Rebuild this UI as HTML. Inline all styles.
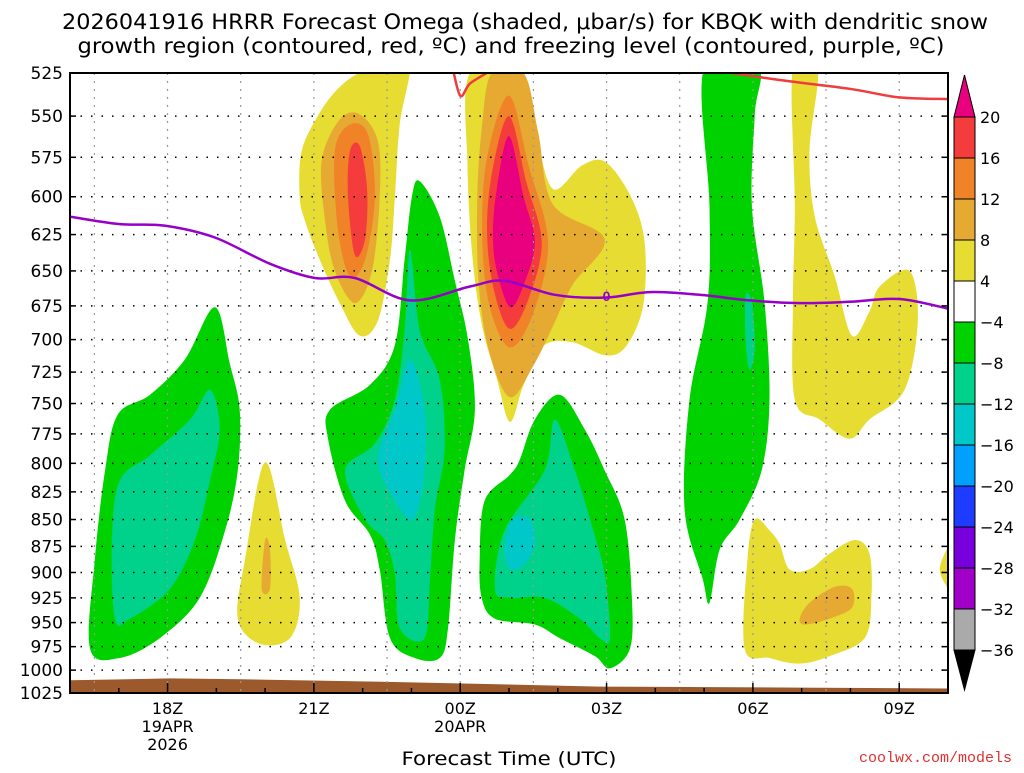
<!DOCTYPE html>
<html><head><meta charset="utf-8"><style>
body{margin:0;background:#fff;width:1024px;height:768px;overflow:hidden;font-family:"Liberation Sans",sans-serif}
</style></head><body>
<svg id="chart" width="1024" height="768" xmlns="http://www.w3.org/2000/svg" font-family="Liberation Sans, sans-serif">
<text x="525" y="29" text-anchor="middle" font-size="21" font-family="DejaVu Sans, sans-serif" textLength="926" lengthAdjust="spacingAndGlyphs">2026041916 HRRR Forecast Omega (shaded, μbar/s) for KBQK with dendritic snow</text>
<text x="511" y="53" text-anchor="middle" font-size="21" font-family="DejaVu Sans, sans-serif" textLength="867" lengthAdjust="spacingAndGlyphs">growth region (contoured, red, ºC) and freezing level (contoured, purple, ºC)</text>
<defs><clipPath id="pc"><rect x="70" y="73" width="878" height="620"/></clipPath></defs>
<g id="shade" clip-path="url(#pc)"></g>
<g id="grid"></g>
<g id="lines" clip-path="url(#pc)"></g>
<rect x="70" y="73" width="878" height="620" fill="none" stroke="#000" stroke-width="2"/>
<g id="axes"></g>
<g id="cbar"></g>
<text x="509" y="765" text-anchor="middle" font-size="19" font-family="DejaVu Sans, sans-serif" textLength="215" lengthAdjust="spacingAndGlyphs">Forecast Time (UTC)</text>
<text x="1012" y="762" text-anchor="end" font-size="15" fill="#e03030" font-family="Liberation Mono, monospace">coolwx.com/models</text>
</svg>
<script>
const pressureTicks=[525,550,575,600,625,650,675,700,725,750,775,800,825,850,875,900,925,950,975,1000,1025];
const timeLabels=[[18,"18Z","19APR","2026"],[21,"21Z"],[24,"00Z","20APR"],[27,"03Z"],[30,"06Z"],[33,"09Z"]];
const cbarLabels=["20","16","12","8","4","−4","−8","−12","−16","−20","−24","−28","−32","−36"];
const cbarColors=["#f53c3c","#f08228","#e6aa32","#e6dc32","#ffffff","#00d200","#00d28c","#00c8c8","#00a0ff","#1e3cff","#7800dc","#a000c8","#aaaaaa"];
const greenA=[[16.41,977],[16.51,887],[16.72,806],[16.98,759],[17.64,743],[18.36,715],[18.97,676],[19.28,719],[19.48,755],[19.44,806],[19.18,860],[18.66,925],[17.84,966],[17.02,987]];
const tealA=[[16.92,946],[16.86,869],[17.02,815],[17.64,793],[18.46,763],[18.87,739],[19.07,771],[18.87,815],[18.56,869],[18.05,916],[17.23,946]];
const yellowB=[[19.44,946],[19.59,887],[20.0,799],[20.41,869],[20.71,925],[20.51,966],[19.89,972]];
const dkB=[[19.93,916],[20.0,869],[20.1,878],[20.1,916]];
const yellowC=[[20.71,600],[20.75,571],[21.12,548],[21.53,533],[22.0,524],[22.5,522],[22.97,520],[22.76,555],[22.66,600],[22.56,642],[22.31,686],[21.94,697],[21.53,673],[21.08,639],[20.82,616]];
const dkC=[[21.16,577],[21.53,552],[21.94,549],[22.31,565],[22.35,600],[22.19,650],[21.84,673],[21.43,650],[21.23,616]];
const orC=[[21.43,571],[21.74,555],[22.11,561],[22.25,600],[22.05,642],[21.74,654],[21.49,621]];
const redC=[[21.74,571],[21.94,568],[22.09,595],[22.05,628],[21.84,639],[21.7,600]];
const greenD=[[21.33,755],[22.15,735],[22.66,704],[22.86,642],[23.01,600],[23.17,590],[23.58,613],[23.89,657],[24.16,700],[24.3,755],[24.09,806],[23.89,869],[23.75,956],[23.58,987],[23.07,987],[22.56,966],[22.35,897],[22.15,864],[21.64,833],[21.29,779]];
const tealD=[[21.64,806],[22.25,783],[22.66,747],[22.86,693],[22.97,635],[23.17,693],[23.58,731],[23.68,788],[23.48,841],[23.38,906],[23.27,966],[22.76,956],[22.66,902],[22.45,869],[22.05,850]];
const cyanD=[[22.31,797],[22.66,755],[22.97,715],[23.27,755],[23.27,806],[23.13,841],[22.97,850],[22.66,833]];
const yellowE=[[24.2,525],[25.25,525],[25.55,560],[25.9,595],[26.5,580],[26.98,578],[27.5,600],[27.78,630],[27.75,675],[27.4,705],[26.98,712],[26.3,702],[25.7,705],[25.3,735],[25.02,765],[24.75,730],[24.45,690],[24.25,640],[24.15,580]];
const dkE=[[24.65,525],[25.3,525],[25.6,560],[25.9,605],[26.96,628],[26.3,660],[25.9,690],[25.5,720],[25.02,745],[24.6,710],[24.38,660],[24.35,600],[24.45,555]];
const orE=[[25.0,538],[25.4,580],[25.8,630],[25.5,680],[25.02,706],[24.6,675],[24.45,625],[24.55,575]];
const redE=[[25.0,550],[25.35,590],[25.67,630],[25.4,670],[25.02,692],[24.7,665],[24.55,625],[24.65,585]];
const magE=[[25.0,562],[25.3,600],[25.53,630],[25.3,660],[25.02,676],[24.75,650],[24.67,625],[24.75,595]];
const greenF=[[24.4,887],[24.5,833],[25.02,810],[25.22,797],[25.53,763],[26.04,743],[26.55,771],[26.96,806],[27.37,850],[27.52,925],[27.48,977],[27.07,998],[26.76,985],[26.04,966],[25.53,952],[24.71,946],[24.44,925]];
const tealF=[[24.71,916],[24.91,860],[25.73,806],[25.94,763],[26.35,806],[26.66,850],[26.96,902],[27.07,966],[26.86,966],[26.45,946],[25.73,925],[25.02,925]];
const cyanF=[[24.91,878],[25.06,850],[25.43,850],[25.53,873],[25.32,892],[25.02,897]];
const greenG=[[29.0,522],[30.1,522],[30.04,549],[29.98,606],[30.24,673],[30.34,747],[30.18,806],[29.73,850],[29.32,878],[29.11,930],[28.97,906],[28.6,841],[28.7,747],[29.07,673],[29.11,606]];
const tealG=[[29.85,667],[29.98,673],[30.04,707],[29.93,723],[29.85,700]];
const yellowH=[[30.82,522],[31.33,522],[31.16,571],[31.27,613],[31.68,654],[32.03,697],[32.39,679],[32.6,661],[33.21,650],[33.38,686],[33.11,739],[32.39,763],[31.98,779],[31.37,763],[30.86,747],[30.82,673],[30.86,606]];
const yellowI=[[29.83,977],[29.89,887],[30.04,850],[30.34,860],[30.55,873],[30.75,897],[31.16,897],[31.57,882],[32.09,869],[32.39,882],[32.43,925],[32.29,966],[31.57,985],[30.96,993],[30.34,987]];
const dkI=[[30.96,946],[31.16,930],[31.68,914],[32.03,916],[32.03,935],[31.57,946],[31.07,952]];
const yellowJ=[[33.83,897],[34.1,872],[34.1,918]];
const redLine1=[[23.83,520],[24.0,538],[24.2,531],[24.6,524],[24.8,520]];
const redLine2=[[28.8,522],[30.55,529],[31.98,534],[33.0,539],[34.0,540]];
const freezeLine=[[16,613],[17.02,618],[17.94,619],[18.97,627],[20.1,645],[21.02,655],[21.84,655],[22.97,671],[24.2,661],[24.91,657],[25.94,667],[26.96,669],[27.89,665],[28.91,667],[29.93,671],[30.96,673],[31.98,672],[33.0,670],[34,677]];
const groundTop=[[16,1011],[18.05,1009],[19.5,1010],[22.76,1013],[26.86,1018],[30.96,1019],[34,1020]];

const NS="http://www.w3.org/2000/svg";
const X0=70,X1=948,Y0=73,Y1=693,H0=16,H1=34,P0=525,P1=1025;
function xs(h){return X0+(h-H0)/(H1-H0)*(X1-X0);}
function ys(p){return Y0+Math.log(p/P0)/Math.log(P1/P0)*(Y1-Y0);}
function mk(tag,attrs,parent){const e=document.createElementNS(NS,tag);for(const k in attrs)e.setAttribute(k,attrs[k]);parent.appendChild(e);return e;}
function smooth(pts,closed){const P=pts.map(d=>[xs(d[0]),ys(d[1])]);const n=P.length;let s="M"+P[0][0].toFixed(1)+","+P[0][1].toFixed(1);
 const cnt=closed?n:n-1;for(let i=0;i<cnt;i++){const p0=P[(i-1+n)%n],p1=P[i],p2=P[(i+1)%n],p3=P[(i+2)%n];
 const a=closed||i>0?p0:p1,b=closed||i+2<n?p3:p2;
 s+=" C"+(p1[0]+(p2[0]-a[0])/6).toFixed(1)+","+(p1[1]+(p2[1]-a[1])/6).toFixed(1)+" "+(p2[0]-(b[0]-p1[0])/6).toFixed(1)+","+(p2[1]-(b[1]-p1[1])/6).toFixed(1)+" "+p2[0].toFixed(1)+","+p2[1].toFixed(1);}
 return s+(closed?"Z":"");}
const shade=document.getElementById('shade');
const layers=[["green-region-a",greenA,"#00d200"],["teal-region-a",tealA,"#00d28c"],["yellow-region-b",yellowB,"#e6dc32"],["dkyellow-region-b",dkB,"#e6aa32"],
["yellow-region-c",yellowC,"#e6dc32"],["dkyellow-region-c",dkC,"#e6aa32"],["orange-region-c",orC,"#f08228"],["red-region-c",redC,"#f53c3c"],
["green-region-d",greenD,"#00d200"],["teal-region-d",tealD,"#00d28c"],["cyan-region-d",cyanD,"#00c8c8"],
["yellow-region-e",yellowE,"#e6dc32"],["dkyellow-region-e",dkE,"#e6aa32"],["orange-region-e",orE,"#f08228"],["red-region-e",redE,"#f53c3c"],["magenta-region-e",magE,"#e8007e"],
["green-region-f",greenF,"#00d200"],["teal-region-f",tealF,"#00d28c"],["cyan-region-f",cyanF,"#00c8c8"],
["green-region-g",greenG,"#00d200"],["teal-region-g",tealG,"#00d28c"],["yellow-region-h",yellowH,"#e6dc32"],["yellow-region-i",yellowI,"#e6dc32"],["dkyellow-region-i",dkI,"#e6aa32"],["yellow-region-j",yellowJ,"#e6dc32"]];
layers.forEach(L=>{const e=mk('path',{d:smooth(L[1],true),fill:L[2]},shade);

});
(function(){let d="M"+xs(groundTop[0][0])+","+ys(groundTop[0][1]);groundTop.forEach(g=>{d+=" L"+xs(g[0]).toFixed(1)+","+ys(g[1]).toFixed(1);});d+=" L"+X1+","+Y1+" L"+X0+","+Y1+"Z";
const e=mk('path',{d:d,fill:"#9c5a2c"},shade);

})();
const grid=document.getElementById('grid');
pressureTicks.forEach(p=>{const e=mk('line',{x1:X0,x2:X1,y1:ys(p),y2:ys(p),stroke:"#000","stroke-width":1.5,"stroke-dasharray":"1.5 9"},grid);

});
for(let h=16.5;h<34;h+=1.5){const e=mk('line',{x1:xs(h),x2:xs(h),y1:Y0,y2:Y1,stroke:"#999","stroke-width":1.2,"stroke-dasharray":"2 6"},grid);

}
const lines=document.getElementById('lines');
[["dgz-line-1",redLine1,"#f03c3c"],["dgz-line-2",redLine2,"#f03c3c"],["freezing-level-line",freezeLine,"#9600c8"]].forEach(L=>{
const e=mk('path',{d:smooth(L[1],false),fill:"none",stroke:L[2],"stroke-width":2.5},lines);

});
const zl=mk('text',{x:xs(27),y:ys(668)+5,"text-anchor":"middle","font-size":14,"font-weight":"bold",fill:"#9600c8"},lines);zl.textContent="0";


const axes=document.getElementById('axes');
pressureTicks.forEach(p=>{const t=mk('text',{x:63,y:ys(p)+6,"text-anchor":"end","font-size":17,"font-family":"DejaVu Sans, sans-serif"},axes);t.textContent=p;


mk('line',{x1:X0,x2:X0+6,y1:ys(p),y2:ys(p),stroke:"#000","stroke-width":1.5},axes);
mk('line',{x1:X1-6,x2:X1,y1:ys(p),y2:ys(p),stroke:"#000","stroke-width":1.5},axes);});
for(let h=17;h<34;h++){mk('line',{x1:xs(h),x2:xs(h),y1:Y1,y2:Y1-(h%3==0?10:5),stroke:"#000","stroke-width":1.5},axes);}
timeLabels.forEach(t=>{for(let i=1;i<t.length;i++){const e=mk('text',{x:xs(t[0]),y:Y1+21+(i-1)*18,"text-anchor":"middle","font-size":16,"font-family":"DejaVu Sans, sans-serif"},axes);e.textContent=t[i];

}});
const cb=document.getElementById('cbar');const cx=954,cw=21,ct=117,seg=(650-117)/13;
mk('path',{d:`M${cx},${ct} L${cx+cw/2},75 L${cx+cw},${ct}Z`,fill:"#e8007e",stroke:"#000"},cb);
cbarColors.forEach((c,i)=>{const e=mk('rect',{x:cx,y:ct+i*seg,width:cw,height:seg,fill:c,stroke:"#000","stroke-width":1},cb);

});
mk('path',{d:`M${cx},650 L${cx+cw/2},690 L${cx+cw},650Z`,fill:"#000",stroke:"#000"},cb);
cbarLabels.forEach((l,i)=>{const e=mk('text',{x:980,y:ct+i*seg+6,"font-size":16,"font-family":"DejaVu Sans, sans-serif"},cb);e.textContent=l;

});
</script>
</body></html>
